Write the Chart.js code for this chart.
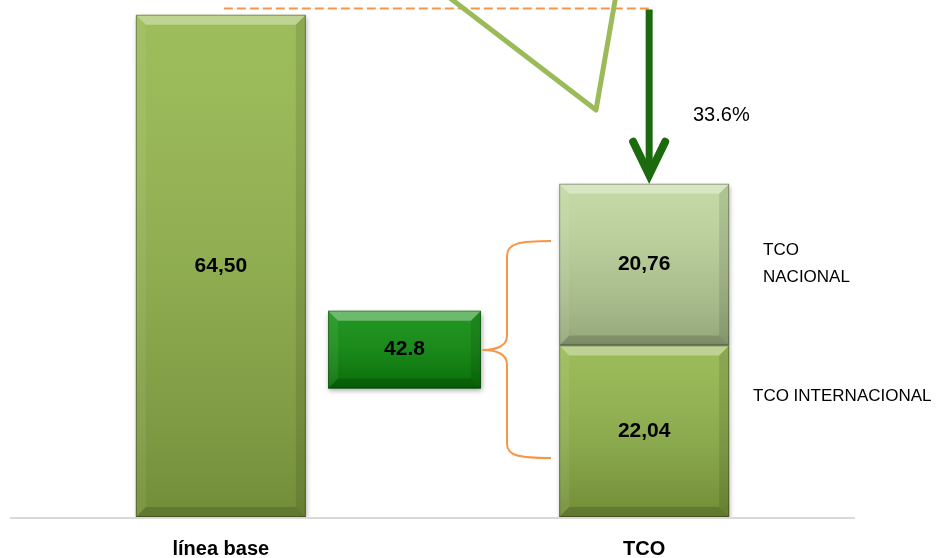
<!DOCTYPE html>
<html>
<head>
<meta charset="utf-8">
<script src="https://cdn.jsdelivr.net/npm/chart.js@4.4.0/dist/chart.umd.min.js"></script>
<style>
  html, body { margin: 0; padding: 0; background: #fff; }
</style>
</head>
<body>
<canvas id="tcoChart" width="938" height="558"></canvas>
<script>
// categories on the x axis (the middle one has no label)
const categories = ["línea base", "", "TCO"];

// series values
const lineaBase = [64.5, null, null];
const tcoRango = [null, [16.5, 26.5], null]; // floating box labelled 42.8
const tcoInternacional = [null, null, 22.04];
const tcoNacional = [null, null, 20.76];

// texts printed on the bars
const lineaBaseText = ["64,50", "", ""];
const tcoRangoText = ["", "42.8", ""];
const tcoInternacionalText = ["", "", "22,04"];
const tcoNacionalText = ["", "", "20,76"];

const reduccionText = "33.6%";
const nacionalLabel = ["TCO", "NACIONAL"];
const internacionalLabel = "TCO INTERNACIONAL";

const yMax = 66.4;
const FONT = '"Liberation Sans", Arial, sans-serif';

function poly(ctx, pts, color) {
  ctx.beginPath();
  ctx.moveTo(pts[0][0], pts[0][1]);
  for (let i = 1; i < pts.length; i++) ctx.lineTo(pts[i][0], pts[i][1]);
  ctx.closePath();
  ctx.fillStyle = color;
  ctx.fill();
}

function line(ctx, x1, y1, x2, y2) {
  ctx.beginPath();
  ctx.moveTo(x1, y1);
  ctx.lineTo(x2, y2);
  ctx.stroke();
}

// grey base line, wider than the plot area
const baseLine = {
  id: "baseLine",
  beforeDatasetsDraw(chart) {
    const ctx = chart.ctx;
    const y0 = chart.scales.y.getPixelForValue(0) + 1;
    ctx.save();
    ctx.strokeStyle = "#d9d9d9";
    ctx.lineWidth = 2;
    line(ctx, 10, y0, 855, y0);
    ctx.restore();
  },
};

// soft shadow under each bar
const barShadow = {
  id: "barShadow",
  beforeDatasetDraw(chart) {
    const ctx = chart.ctx;
    ctx.shadowColor = "rgba(0,0,0,0.35)";
    ctx.shadowBlur = 5;
    ctx.shadowOffsetX = 1;
    ctx.shadowOffsetY = 2;
  },
  afterDatasetDraw(chart) {
    const ctx = chart.ctx;
    ctx.shadowColor = "transparent";
    ctx.shadowBlur = 0;
    ctx.shadowOffsetX = 0;
    ctx.shadowOffsetY = 0;
  },
};

// bevel look + value text on every bar
const bevel = {
  id: "bevel",
  afterDatasetsDraw(chart) {
    const ctx = chart.ctx;
    ctx.save();
    chart.data.datasets.forEach((ds, di) => {
      chart.getDatasetMeta(di).data.forEach((bar, i) => {
        if (ds.data[i] == null) return;
        const p = bar.getProps(["x", "y", "base", "width"], true);
        const l = p.x - p.width / 2;
        const r = p.x + p.width / 2;
        const t = Math.min(p.y, p.base);
        const b = Math.max(p.y, p.base);
        const k = 10;
        const g = ctx.createLinearGradient(0, t, 0, b);
        g.addColorStop(0, "rgba(255,255,255,0.10)");
        g.addColorStop(1, "rgba(0,0,0,0.22)");
        ctx.fillStyle = g;
        ctx.fillRect(l, t, r - l, b - t);
        poly(ctx, [[l, t], [r, t], [r - k, t + k], [l + k, t + k]], "rgba(255,255,255,0.35)");
        poly(ctx, [[l, b], [r, b], [r - k, b - k], [l + k, b - k]], "rgba(0,0,0,0.15)");
        poly(ctx, [[l, t], [l + k, t + k], [l + k, b - k], [l, b]], "rgba(255,255,255,0.07)");
        poly(ctx, [[r, t], [r - k, t + k], [r - k, b - k], [r, b]], "rgba(0,0,0,0.10)");
        ctx.strokeStyle = "rgba(0,0,0,0.3)";
        ctx.lineWidth = 1;
        ctx.strokeRect(l + 0.5, t + 0.5, r - l - 1, b - t - 1);

        const txt = ds.texts[i];
        if (txt) {
          ctx.fillStyle = "#000";
          ctx.font = "bold 21px " + FONT;
          ctx.textAlign = "center";
          ctx.textBaseline = "middle";
          ctx.fillText(txt, p.x, (t + b) / 2);
        }
      });
    });
    ctx.restore();
  },
};

// arrow, reference line, brace and side labels
const notes = {
  id: "notes",
  afterDraw(chart) {
    const ctx = chart.ctx;
    const xs = chart.scales.x;
    const ys = chart.scales.y;
    const xBase = xs.getPixelForValue(0);
    const xTco = xs.getPixelForValue(2);
    const totalTco = tcoInternacional[2] + tcoNacional[2];
    const yRef = ys.getPixelForValue(65.3);
    const xArrow = xTco + 5;
    ctx.save();

    // dashed line from the base bar to the arrow
    ctx.strokeStyle = "#f79646";
    ctx.lineWidth = 2;
    ctx.setLineDash([9, 4]);
    line(ctx, xBase + 3, yRef, xArrow, yRef);
    ctx.setLineDash([]);

    // light green zigzag (cut off at the top)
    ctx.strokeStyle = "#9bbb59";
    ctx.lineWidth = 5;
    ctx.lineJoin = "round";
    ctx.beginPath();
    ctx.moveTo(446, -5);
    ctx.lineTo(596, 110);
    ctx.lineTo(616, -5);
    ctx.stroke();

    // down arrow
    const yEnd = ys.getPixelForValue(totalTco) - 9;
    ctx.strokeStyle = "#1b6b0e";
    ctx.lineWidth = 7;
    line(ctx, xArrow, yRef + 1, xArrow, yEnd - 4);
    ctx.lineWidth = 8;
    ctx.lineCap = "round";
    ctx.lineJoin = "miter";
    ctx.beginPath();
    ctx.moveTo(xArrow - 16, yEnd - 33);
    ctx.lineTo(xArrow, yEnd);
    ctx.lineTo(xArrow + 16, yEnd - 33);
    ctx.stroke();
    ctx.lineCap = "butt";

    ctx.fillStyle = "#000";
    ctx.font = "20px " + FONT;
    ctx.textAlign = "left";
    ctx.textBaseline = "middle";
    ctx.fillText(reduccionText, 693, 115);

    // brace joining the TCO parts to the 42.8 box
    ctx.strokeStyle = "#f79646";
    ctx.lineWidth = 2;
    ctx.lineJoin = "round";
    ctx.beginPath();
    ctx.moveTo(551, 241);
    ctx.bezierCurveTo(520, 241, 507, 243, 507, 256);
    ctx.lineTo(507, 336);
    ctx.bezierCurveTo(507, 346, 496, 350, 483, 350);
    ctx.bezierCurveTo(496, 350, 507, 354, 507, 364);
    ctx.lineTo(507, 444);
    ctx.bezierCurveTo(507, 456, 520, 458, 551, 458);
    ctx.stroke();

    ctx.fillStyle = "#000";
    ctx.font = "17px " + FONT;
    ctx.fillText(nacionalLabel[0], 763, 250);
    ctx.fillText(nacionalLabel[1], 763, 277);
    ctx.fillText(internacionalLabel, 753, 396);
    ctx.restore();
  },
};

new Chart(document.getElementById("tcoChart"), {
  type: "bar",
  data: {
    labels: categories,
    datasets: [
      {
        label: "TCO",
        data: tcoRango,
        texts: tcoRangoText,
        stack: "rango",
        backgroundColor: "#078a07",
        skipNull: false,
        categoryPercentage: 0.529,
        barPercentage: 2.73,
      },
      {
        label: "línea base",
        data: lineaBase,
        texts: lineaBaseText,
        stack: "total",
        backgroundColor: "#92b548",
        skipNull: true,
        categoryPercentage: 1,
        barPercentage: 0.803,
      },
      {
        label: "TCO INTERNACIONAL",
        data: tcoInternacional,
        texts: tcoInternacionalText,
        stack: "total",
        backgroundColor: "#90b446",
        skipNull: true,
        categoryPercentage: 1,
        barPercentage: 0.803,
      },
      {
        label: "TCO NACIONAL",
        data: tcoNacional,
        texts: tcoNacionalText,
        stack: "total",
        backgroundColor: "#bdd59a",
        skipNull: true,
        categoryPercentage: 1,
        barPercentage: 0.803,
      },
    ],
  },
  options: {
    responsive: false,
    animation: false,
    devicePixelRatio: 1,
    layout: { padding: { left: 115, right: 188, top: 0, bottom: -23 } },
    plugins: { legend: { display: false }, tooltip: { enabled: false } },
    scales: {
      x: {
        grid: { display: false, drawTicks: false },
        border: { display: false },
        ticks: {
          color: "#000",
          padding: 20,
          maxRotation: 0,
          autoSkip: false,
          font: { family: FONT, size: 20, weight: "bold" },
        },
      },
      y: { display: false, stacked: true, min: 0, max: yMax },
    },
  },
  plugins: [baseLine, barShadow, bevel, notes],
});
</script>
</body>
</html>
